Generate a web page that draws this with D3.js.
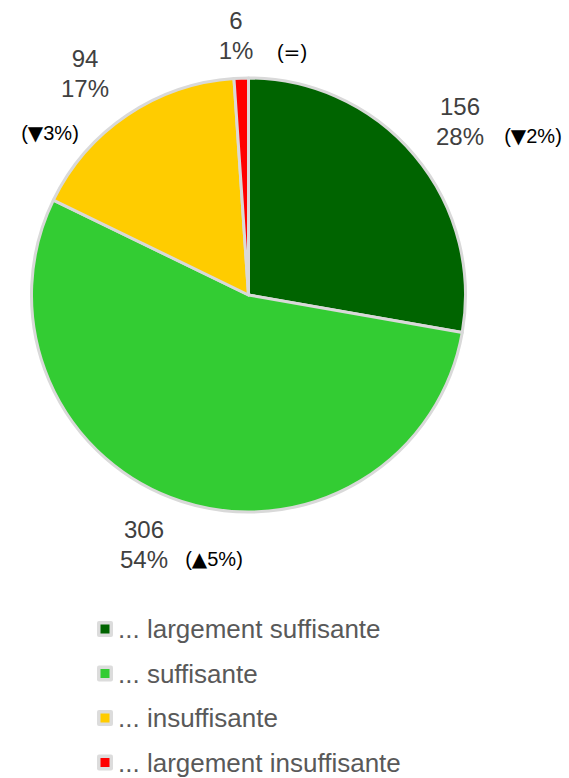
<!DOCTYPE html>
<html>
<head>
<meta charset="utf-8">
<script src="https://cdn.jsdelivr.net/npm/d3@7"></script>
<style>
  body { margin:0; background:#fff; }
  text { font-family: "Liberation Sans", Arial, sans-serif; }
</style>
</head>
<body>
<svg class="chart" width="569" height="778"></svg>
<script>
// categories and values, clockwise from 12 o'clock
var categories = ['... largement suffisante', '... suffisante', '... insuffisante', '... largement insuffisante'];
var values = [156, 306, 94, 6];
var percents = ['28%', '54%', '17%', '1%'];
var changeMarks = ['\u25BC', '\u25B2', '\u25BC', '='];
var changeValues = ['2%', '5%', '3%', ''];
var colores = ['#006400', '#33cc33', '#ffcc00', '#ff0000'];

// label placement (value label centre, change label centre)
var labelPos = [
  {x:460, y:115, cx:533, cy:143},
  {x:144, y:538, cx:214, cy:566},
  {x:85,  y:67,  cx:50,  cy:140},
  {x:292 - 56, y:29, cx:292, cy:59}
];

var data = categories.map(function(c,i){
  return {cat:c, value:values[i], pct:percents[i], mark:changeMarks[i], change:changeValues[i], fill:colores[i]};
});

var svg = d3.select('.chart');
var cx = 248.5, cy = 295, r = 217;

var pie = d3.pie().sort(null).value(function(d){ return d.value; });
var arc = d3.arc().innerRadius(0).outerRadius(r);

var g = svg.append('g').attr('transform', 'translate(' + cx + ',' + cy + ')');
g.selectAll('path')
  .data(pie(data))
  .enter().append('path')
    .attr('d', arc)
    .attr('fill', function(d){ return d.data.fill; })
    .attr('stroke', '#d9d9d9')
    .attr('stroke-width', 3)
    .attr('stroke-linejoin', 'round');

/* etiquetas: valor, porcentaje y cambio */
data.forEach(function(d,i){
  var p = labelPos[i];
  svg.append('text')
    .attr('x', p.x).attr('y', p.y)
    .attr('text-anchor', 'middle')
    .attr('font-size', '24px')
    .attr('fill', '#404040')
    .text(d.value);
  svg.append('text')
    .attr('x', p.x).attr('y', p.y + 30)
    .attr('text-anchor', 'middle')
    .attr('font-size', '24px')
    .attr('fill', '#404040')
    .text(d.pct);
  var t = svg.append('text')
    .attr('x', p.cx).attr('y', p.cy)
    .attr('text-anchor', 'middle')
    .attr('font-size', '20px')
    .attr('fill', '#000');
  t.append('tspan').text('(');
  t.append('tspan')
    .attr('font-family', '"DejaVu Sans", sans-serif')
    .attr('font-size', '20px')
    .text(d.mark);
  t.append('tspan').text(d.change + ')');
});

/* leyenda */
var leg = svg.append('g').attr('transform', 'translate(97,629)');
var rows = leg.selectAll('g')
  .data(data)
  .enter().append('g')
    .attr('transform', function(d,i){ return 'translate(0,' + (i*44.5) + ')'; });
rows.append('rect')
  .attr('x', 0).attr('y', -8).attr('width', 16).attr('height', 16)
  .attr('rx', 2)
  .attr('fill', '#dcdcdc');
rows.append('rect')
  .attr('x', 3.5).attr('y', -4.5).attr('width', 9).attr('height', 9)
  .attr('fill', function(d){ return d.fill; });
rows.append('text')
  .attr('x', 21).attr('y', 9)
  .attr('font-size', '26px')
  .attr('fill', '#595959')
  .text(function(d){ return d.cat; });
</script>
</body>
</html>
